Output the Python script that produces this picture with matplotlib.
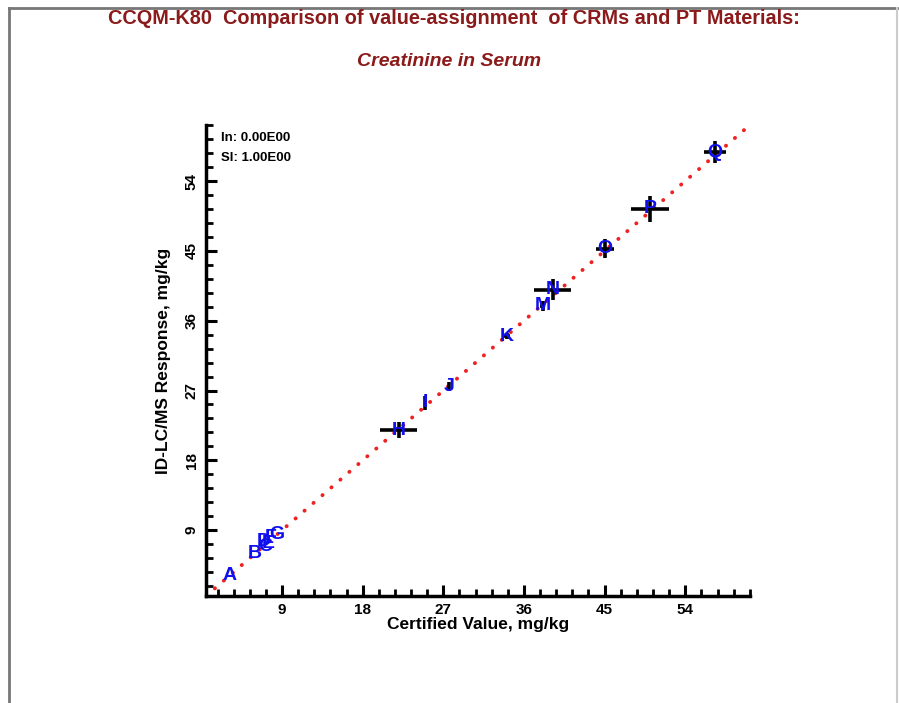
import matplotlib
matplotlib.use('Agg')
import matplotlib.pyplot as plt
from matplotlib.ticker import MultipleLocator
from matplotlib.lines import Line2D

plt.rcParams['font.family'] = ['Liberation Sans', 'DejaVu Sans']

# Данные: метки образцов, аттестованное значение, отклик ID-LC/MS и неопределённости
labels = ['A', 'B', 'C', 'D', 'E', 'F', 'G', 'H', 'I', 'J', 'K', 'M', 'N', 'O', 'P', 'Q']
certified = [3.2, 6.0, 7.1, 7.0, 7.5, 7.7, 8.4, 22.0, 25.0, 27.6, 34.1, 38.1, 39.2, 45.0, 50.1, 57.3]
response = [3.1, 6.0, 6.9, 7.6, 7.3, 8.0, 8.4, 21.9, 25.4, 27.5, 34.0, 37.9, 40.0, 45.3, 50.4, 57.7]
x_err = [0, 0, 0, 0, 0, 0, 0, 2.1, 0, 0, 0.3, 0.3, 2.1, 1.0, 2.1, 1.25]
y_err = [0, 0, 0, 0, 0, 0, 0, 1.0, 0.85, 0.6, 0.4, 0.7, 1.35, 1.2, 1.7, 1.4]

intercept = 0.0
slope = 1.0
axis_min, axis_max = 0.5, 61.2
tick_values = [9, 18, 27, 36, 45, 54]

fig = plt.figure(figsize=(8.99, 7.03), dpi=100)
ax = fig.add_axes([0.229, 0.152, 0.605, 0.670])

# Линия регрессии (точки)
line_x = [axis_min, axis_max]
line_y = [intercept + slope * v for v in line_x]
ax.plot(line_x, line_y, color='#ee2222', linestyle=(0, (0.05, 3.0)), linewidth=2.8,
        dash_capstyle='round', zorder=2)

# Полосы неопределённости
for xv, yv, xe, ye in zip(certified, response, x_err, y_err):
    if xe > 0 or ye > 0:
        ax.errorbar(xv, yv, xerr=xe if xe > 0 else None, yerr=ye if ye > 0 else None,
                    fmt='none', ecolor='black', elinewidth=2.6, capsize=0, zorder=3)

# Буквы образцов
for lab, xv, yv in zip(labels, certified, response):
    ax.text(xv, yv, lab, color='#1010ee', fontsize=14, fontweight='bold',
            ha='center', va='center', zorder=5)

ax.set_xlim(axis_min, axis_max)
ax.set_ylim(axis_min, axis_max)

ax.spines['top'].set_visible(False)
ax.spines['right'].set_visible(False)
ax.spines['left'].set_linewidth(2.5)
ax.spines['bottom'].set_linewidth(2.5)

ax.xaxis.set_major_locator(MultipleLocator(9))
ax.yaxis.set_major_locator(MultipleLocator(9))
ax.xaxis.set_minor_locator(MultipleLocator(1.8))
ax.yaxis.set_minor_locator(MultipleLocator(1.8))
ax.tick_params(which='major', direction='in', length=8, width=2.2, labelsize=11, pad=5)
ax.tick_params(which='minor', direction='in', length=5, width=2.0)
ax.set_xticks(tick_values)
ax.set_yticks(tick_values)
ax.set_xticklabels([str(v) for v in tick_values], fontweight='bold')
ax.set_yticklabels([str(v) for v in tick_values], fontweight='bold', rotation=90, va='center')

ax.set_xlabel('Certified Value, mg/kg', fontsize=12.5, fontweight='bold', labelpad=0)
ax.set_ylabel('ID-LC/MS Response, mg/kg', fontsize=12.5, fontweight='bold', labelpad=10)

ax.text(0.028, 0.972, 'In: 0.00E00', transform=ax.transAxes, fontsize=9.5,
        fontweight='bold', va='center', ha='left')
ax.text(0.028, 0.930, 'Sl: 1.00E00', transform=ax.transAxes, fontsize=9.5,
        fontweight='bold', va='center', ha='left')

# Заголовок
fig.text(0.505, 0.974, 'CCQM-K80  Comparison of value-assignment  of CRMs and PT Materials:',
         color='#8b1a1a', fontsize=14.3, fontweight='bold', ha='center', va='center')
fig.text(0.500, 0.913, 'Creatinine in Serum', color='#8b1a1a', fontsize=14,
         fontweight='bold', style='italic', ha='center', va='center')

# Рамка вокруг рисунка
fig.add_artist(Line2D([0.0105, 0.0105], [0.0, 0.989], transform=fig.transFigure,
                      color='#777777', linewidth=2))
fig.add_artist(Line2D([0.0105, 0.998], [0.989, 0.989], transform=fig.transFigure,
                      color='#777777', linewidth=2))
fig.add_artist(Line2D([0.998, 0.998], [0.0, 0.989], transform=fig.transFigure,
                      color='#cccccc', linewidth=1.5))

fig.savefig('out.png', dpi=100)
